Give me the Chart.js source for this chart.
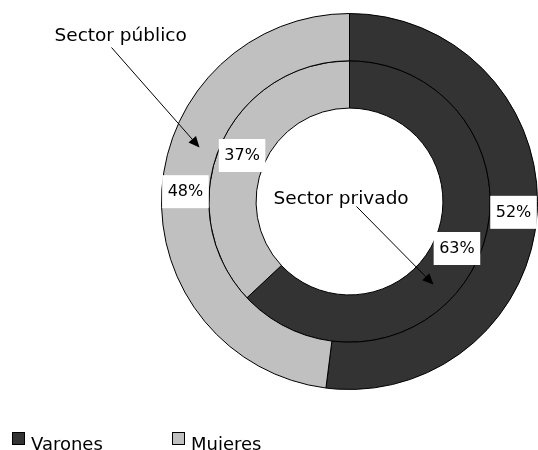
<!DOCTYPE html>
<html>
<head>
<meta charset="utf-8">
<script src="https://cdn.jsdelivr.net/npm/chart.js@4"></script>
<style>
  html, body { margin: 0; padding: 0; background: #fff; }
  #wrap { width: 538px; height: 450px; position: relative; }
</style>
</head>
<body>
<div id="wrap"><canvas id="sectorChart"></canvas></div>
<script>
// Data
const categories = ['Varones', 'Mujeres'];
const ringNames = ['Sector público', 'Sector privado'];
const publicValues = [52, 48];   // outer ring
const privateValues = [63, 37];  // inner ring
const colors = ['#333333', '#c0c0c0'];

const FONT = '"DejaVu Sans", sans-serif';

// percentage boxes, callout arrows and legend
const annotations = {
  id: 'annotations',
  afterDatasetsDraw(chart) {
    const ctx = chart.ctx;
    ctx.save();

    // percentage labels in white boxes
    ctx.font = '16px ' + FONT;
    ctx.textAlign = 'center';
    ctx.textBaseline = 'middle';
    chart.data.datasets.forEach((ds, i) => {
      chart.getDatasetMeta(i).data.forEach((arc, j) => {
        const mid = (arc.startAngle + arc.endAngle) / 2;
        const r = (arc.innerRadius + arc.outerRadius) / 2;
        const x = arc.x + Math.cos(mid) * r;
        const y = arc.y + Math.sin(mid) * r;
        const text = ds.data[j] + '%';
        const w = ctx.measureText(text).width + 11;
        ctx.fillStyle = '#fff';
        ctx.fillRect(x - w / 2, y - 16, w, 33);
        ctx.fillStyle = '#000';
        ctx.fillText(text, x, y + 1);
      });
    });

    // callouts
    const c = chart.getDatasetMeta(0).data[0];
    const cx = c.x, cy = c.y;
    function arrow(x1, y1, x2, y2) {
      const a = Math.atan2(y2 - y1, x2 - x1);
      const len = 11, half = 5;
      ctx.strokeStyle = '#000';
      ctx.lineWidth = 1;
      ctx.beginPath();
      ctx.moveTo(x1, y1);
      ctx.lineTo(x2 - Math.cos(a) * len, y2 - Math.sin(a) * len);
      ctx.stroke();
      ctx.fillStyle = '#000';
      ctx.beginPath();
      ctx.moveTo(x2, y2);
      ctx.lineTo(x2 - Math.cos(a) * len - Math.sin(a) * half, y2 - Math.sin(a) * len + Math.cos(a) * half);
      ctx.lineTo(x2 - Math.cos(a) * len + Math.sin(a) * half, y2 - Math.sin(a) * len - Math.cos(a) * half);
      ctx.closePath();
      ctx.fill();
    }
    ctx.font = '18.5px ' + FONT;
    ctx.textAlign = 'left';
    ctx.textBaseline = 'alphabetic';
    ctx.fillStyle = '#000';
    ctx.fillText(ringNames[0], cx - 295, cy - 161);
    arrow(cx - 238, cy - 154, cx - 150, cy - 54);
    ctx.fillStyle = '#000';
    ctx.fillText(ringNames[1], cx - 76, cy + 2);
    arrow(cx + 7, cy + 5, cx + 84, cy + 83);

    // legend
    ctx.font = '18px ' + FONT;
    const legendX = [12, 172];
    categories.forEach((name, k) => {
      ctx.fillStyle = colors[k];
      ctx.fillRect(legendX[k] + 0.5, 432.5, 12, 12);
      ctx.strokeStyle = '#000';
      ctx.lineWidth = 1;
      ctx.strokeRect(legendX[k] + 0.5, 432.5, 12, 12);
      ctx.fillStyle = '#000';
      ctx.fillText(name, legendX[k] + 19, 450);
    });

    ctx.restore();
  }
};

const ctx = document.getElementById('sectorChart').getContext('2d');
new Chart(ctx, {
  type: 'doughnut',
  data: {
    labels: categories,
    datasets: [{
      label: ringNames[0],
      data: publicValues,
      backgroundColor: colors,
      borderColor: '#000',
      borderWidth: 1,
      hoverOffset: 0
    }, {
      label: ringNames[1],
      data: privateValues,
      backgroundColor: colors,
      borderColor: '#000',
      borderWidth: 1,
      hoverOffset: 0
    }]
  },
  options: {
    responsive: true,
    maintainAspectRatio: false,
    animation: false,
    events: [],
    cutout: '49.7%',
    layout: {
      padding: { left: 161, top: 13, right: 0, bottom: 60 }
    },
    plugins: {
      legend: { display: false },
      tooltip: { enabled: false }
    }
  },
  plugins: [annotations]
});
</script>
</body>
</html>
